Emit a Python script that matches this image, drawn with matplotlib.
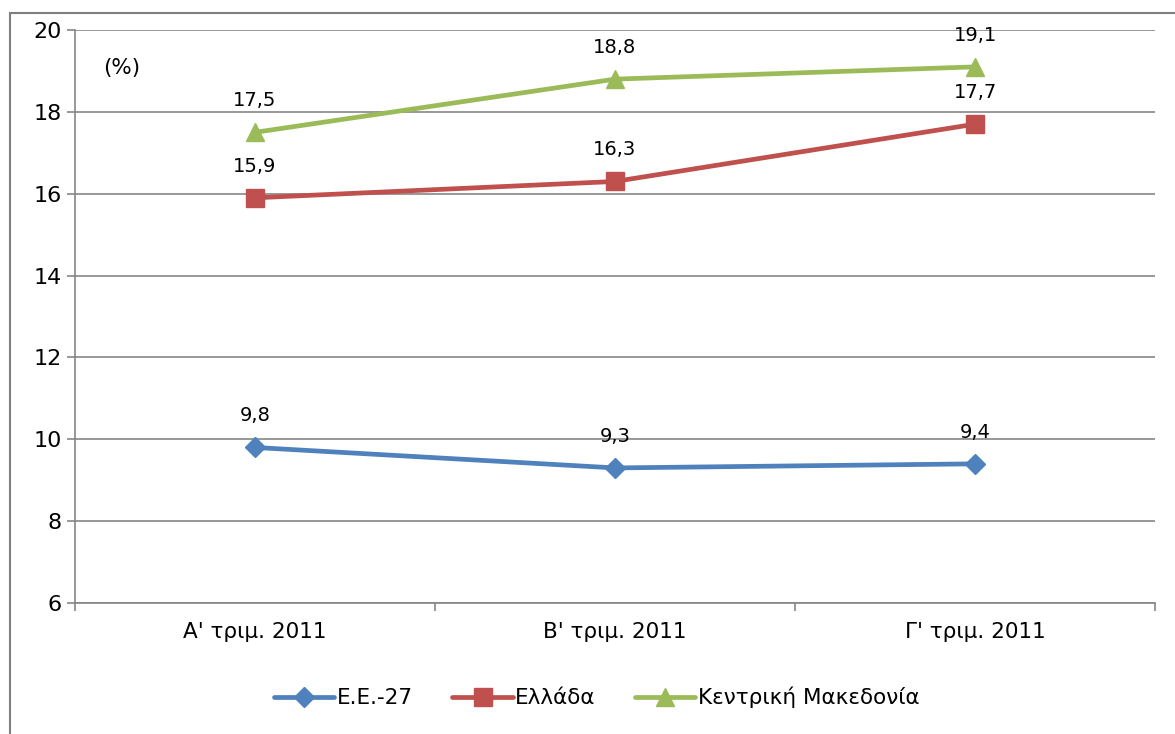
import matplotlib.pyplot as plt
from matplotlib.patches import Rectangle

# δεδομένα
quarters = ["Α' τριμ. 2011", "Β' τριμ. 2011", "Γ' τριμ. 2011"]
ee27 = [9.8, 9.3, 9.4]
ellada = [15.9, 16.3, 17.7]
kmak = [17.5, 18.8, 19.1]

series = [
    ("Ε.Ε.-27", ee27, "#4F81BD", "D"),
    ("Ελλάδα", ellada, "#C0504D", "s"),
    ("Κεντρική Μακεδονία", kmak, "#9BBB59", "^"),
]

plt.rcParams['font.family'] = ['DejaVu Sans']

fig = plt.figure(figsize=(11.75, 7.34), dpi=100)
ax = fig.add_axes([0.0638, 0.1785, 0.9192, 0.7806])

# πλαίσιο γραφήματος
fig.patches.append(Rectangle((0.0085, -0.05), 1.1, 1.032, transform=fig.transFigure,
                             fill=False, edgecolor='#7f7f7f', linewidth=1.5))

x = range(len(quarters))
for name, vals, col, mk in series:
    ax.plot(x, vals, color=col, linewidth=3.4, marker=mk, markersize=13 if mk != 'D' else 10,
            label=name, solid_capstyle='round')
    for xi, v in zip(x, vals):
        ax.annotate(f"{v:.1f}".replace('.', ','), (xi, v), textcoords='offset points',
                    xytext=(0, 16), ha='center', va='bottom', fontsize=14)

ax.set_xlim(-0.5, 2.5)
ax.set_ylim(6, 20)
ax.set_yticks(range(6, 21, 2))
ax.set_xticks(x)
ax.set_xticklabels(quarters, fontsize=15.5)
ax.set_xticks([-0.5, 0.5, 1.5, 2.5], minor=True)
ax.tick_params(axis='x', which='major', length=0, pad=14)
ax.tick_params(axis='x', which='minor', length=6, color='#868686', width=1.2)
ax.tick_params(axis='y', labelsize=16, length=6, color='#868686', width=1.2)
ax.grid(axis='y', color='#868686', linewidth=1.2)
ax.set_axisbelow(True)
for s in ['top', 'right']:
    ax.spines[s].set_visible(False)
for s in ['left', 'bottom']:
    ax.spines[s].set_color('#868686')
    ax.spines[s].set_linewidth(1.2)

ax.text(0.026, 0.934, "(%)", transform=ax.transAxes, fontsize=15.5, va='center')

ax.legend(loc='center', bbox_to_anchor=(0.483, -0.165), ncol=3, frameon=False,
          fontsize=15.5, handlelength=2.8, columnspacing=1.85, handletextpad=0.1)

fig.savefig('out.png', dpi=100)
